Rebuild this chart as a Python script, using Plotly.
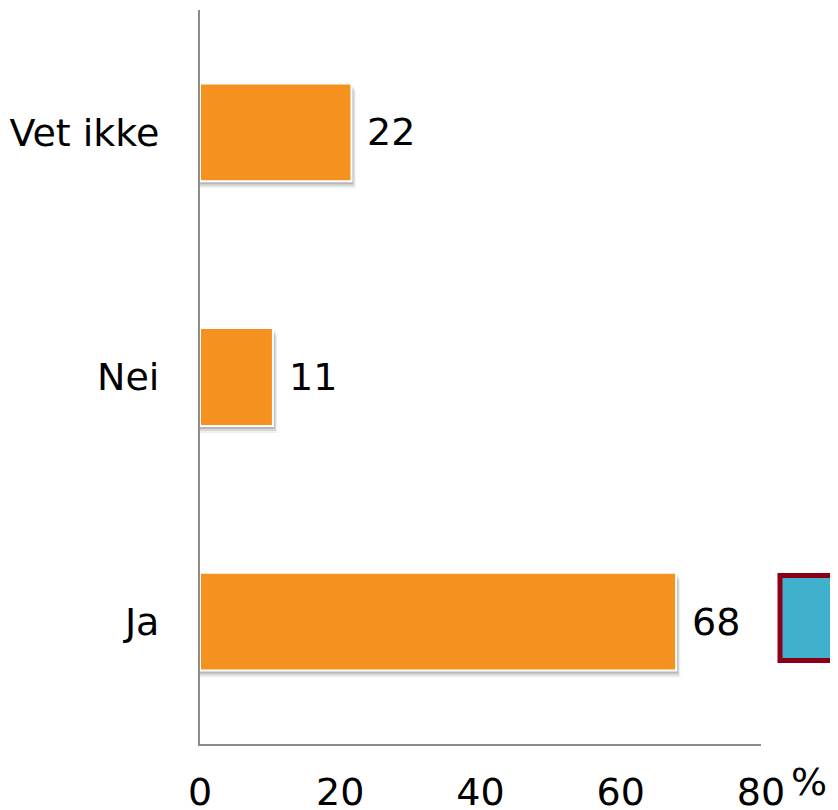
import plotly.graph_objects as go

categories = ["Ja", "Nei", "Vet ikke"]
values = [67.9, 10.4, 21.6]
value_labels = ["68", "11", "22"]
x_ticks = [0, 20, 40, 60, 80]
x_tick_labels = ["0", "20", "40", "60", "80"]

FONT = "DejaVu Sans"
FS = 38
ORANGE = "#F5921F"
AXIS = "#8C8C8C"
BAR_W = 0.4

fig = go.Figure()

# soft drop shadows (drawn first so they sit behind the bars)
for px_off, alpha in [(7, 0.06), (5, 0.10), (3, 0.14)]:
    fig.add_trace(go.Bar(
        y=categories, x=[v + px_off / 7.0 * 0.6 for v in values], orientation="h",
        width=BAR_W, offset=-BAR_W / 2 - px_off / 244.7,
        marker=dict(color=f"rgba(0,0,0,{alpha})", line=dict(width=0)),
        hoverinfo="skip", showlegend=False,
    ))

fig.add_trace(go.Bar(
    y=categories, x=values, orientation="h",
    width=BAR_W, offset=-BAR_W / 2,
    marker=dict(color=ORANGE, line=dict(color="white", width=2)),
    showlegend=False,
))

for c, v, t in zip(categories, values, value_labels):
    fig.add_annotation(x=v, y=c, text=t, showarrow=False, xanchor="left",
                       xshift=14, font=dict(family=FONT, size=FS, color="black"))

fig.add_annotation(xref="paper", yref="paper", x=(789 - 200) / 561, y=(744 - 782) / 734,
                   text="%", showarrow=False, xanchor="left", yanchor="middle",
                   font=dict(family=FONT, size=FS, color="black"))

# partially visible legend box at right edge
fig.add_shape(type="rect", xref="paper", yref="paper",
              x0=(780 - 200) / 561, x1=(900 - 200) / 561,
              y0=(744 - 660.5) / 734, y1=(744 - 575.5) / 734,
              fillcolor="#41B0CC", line=dict(color="#8B0016", width=5), layer="above")

fig.update_layout(
    width=838, height=810,
    margin=dict(l=192, r=85, t=2, b=74),
    paper_bgcolor="white", plot_bgcolor="white",
    barmode="overlay",
    font=dict(family=FONT, size=FS, color="black"),
    xaxis=dict(range=[0, 80], tickvals=x_ticks, ticktext=x_tick_labels,
               showgrid=False, zeroline=False, showline=True, linecolor=AXIS,
               linewidth=2, ticks="", ticklabelstandoff=13, automargin=False,
               tickfont=dict(family=FONT, size=FS, color="black")),
    yaxis=dict(range=[-0.5, 2.5], showgrid=False, zeroline=False, showline=True,
               linecolor=AXIS, linewidth=2, ticks="", ticklabelstandoff=31,
               automargin=False,
               tickfont=dict(family=FONT, size=FS, color="black")),
)

fig.write_html("out.html")
